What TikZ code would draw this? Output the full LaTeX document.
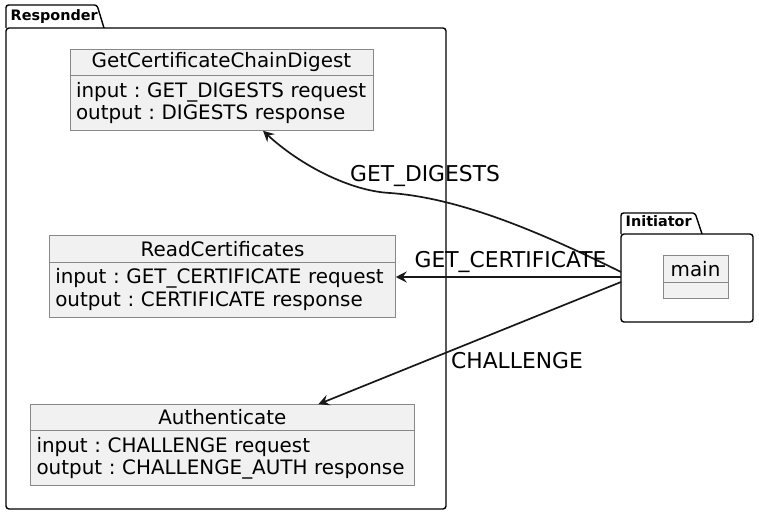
\documentclass[tikz,border=0pt]{standalone}
\usepackage{fontspec}
\setmainfont{DejaVu Sans}
\usetikzlibrary{arrows.meta,positioning}
\definecolor{classfill}{HTML}{F1F1F1}
\definecolor{classline}{HTML}{888888}
\definecolor{flowline}{HTML}{181818}

\begin{document}
\frenchspacing
\begin{tikzpicture}[x=1pt, y=-1pt, >={Stealth[length=11pt,width=11pt,inset=4pt]}, line width=1.4pt]
    \tikzstyle{pkg}=[draw=black, line width=1.4pt, rounded corners=3pt, inner sep=0pt, outer sep=0pt]
    \tikzstyle{pkgtab}=[draw=black, line width=1.4pt, rounded corners=2.5pt]
    \tikzstyle{pkgtitle}=[inner sep=0pt, anchor=base west, font=\bfseries\fontsize{14.4}{16}\selectfont]
    \tikzstyle{chead}=[draw=classline, fill=classfill, line width=0.9pt, inner sep=0pt, outer sep=0pt, minimum height=26.5pt, font=\fontsize{19.9}{22.5}\selectfont]
    \tikzstyle{cbody}=[draw=classline, fill=classfill, line width=0.9pt, inner xsep=6pt, inner ysep=0pt, outer sep=0pt, minimum height=55pt, align=left, font=\fontsize{19.9}{22.5}\selectfont, execute at begin node={\hyphenpenalty=10000\frenchspacing}]
    \tikzstyle{flow}=[->, draw=flowline, line width=1.7pt]
    \tikzstyle{lbl}=[inner sep=0pt, anchor=base, font=\fontsize{21.8}{24}\selectfont]
    \useasboundingbox (0,0) rectangle (759,516);

    % packages
    \node[pkg, minimum width=440pt, minimum height=481pt] (responder) at (226,268.5) {};
    \draw[pkgtab] (responder.north west) -- ++(0,-23) -- ++(91,0) -- ++(7,23);
    \node[pkgtitle] at (10,20.7) {Responder};

    \node[pkg, minimum width=132pt, minimum height=88pt] (initiator) at (687,278) {};
    \draw[pkgtab] (initiator.north west) -- ++(0,-21) -- ++(74,0) -- ++(7,21);
    \node[pkgtitle] at (625,226.7) {Initiator};

    % classes
    \node[chead, minimum width=303pt] (gchead) at (221.5,62.5) {GetCertificateChainDigest};
    \node[cbody, text width=291pt, below=0pt of gchead] (gcbody) {input : GET\_DIGESTS request\\output : DIGESTS response};

    \node[chead, minimum width=346.5pt] (rchead) at (222.5,249) {ReadCertificates};
    \node[cbody, text width=334.5pt, below=0pt of rchead] (rcbody) {input : GET\_CERTIFICATE request\\output : CERTIFICATE response};

    \node[chead, minimum width=383.5pt] (authead) at (222.3,417.5) {Authenticate};
    \node[cbody, text width=371.5pt, below=0pt of authead] (aubody) {input : CHALLENGE request\\output : CHALLENGE\_AUTH response};

    \node[chead, minimum width=65pt] (mainhead) at (695.5,269) {main};
    \node[cbody, text width=53pt, minimum height=16pt, below=0pt of mainhead] (mainbody) {};

    % messages
    \draw[flow] ([yshift=6pt]initiator.west) .. controls (540,232) and (460,198) .. (390,193)
        .. controls (350,191) and (300,165) .. ([xshift=41.5pt]gcbody.south);
    \draw[flow] ([yshift=1pt]initiator.west) -- ([yshift=1pt]initiator.west -| rcbody.east);
    \draw[flow] ([yshift=-4pt]initiator.west) -- ([xshift=96pt]authead.north);

    \node[lbl] (lbldig) at (425,181.7) {GET\_DIGESTS};
    \node[lbl] (lblcert) at (510.5,267.3) {GET\_CERTIFICATE};
    \node[lbl] (lblchal) at (517,368.7) {CHALLENGE};
\end{tikzpicture}
\end{document}
